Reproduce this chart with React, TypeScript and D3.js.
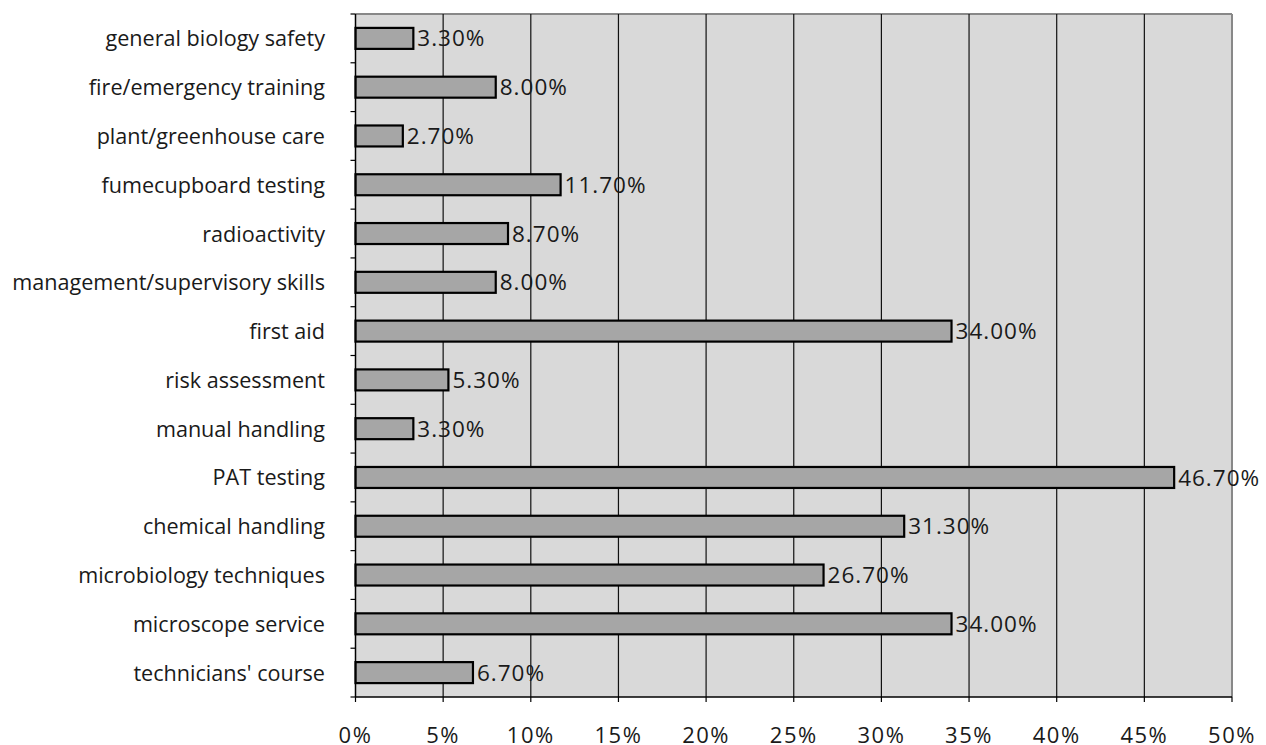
import React from "react";
import * as d3 from "d3";

const categories = [
  "general biology safety",
  "fire/emergency training",
  "plant/greenhouse care",
  "fumecupboard testing",
  "radioactivity",
  "management/supervisory skills",
  "first aid",
  "risk assessment",
  "manual handling",
  "PAT testing",
  "chemical handling",
  "microbiology techniques",
  "microscope service",
  "technicians' course",
];

const percentages = [3.3, 8.0, 2.7, 11.7, 8.7, 8.0, 34.0, 5.3, 3.3, 46.7, 31.3, 26.7, 34.0, 6.7];

const xTicks = [0, 5, 10, 15, 20, 25, 30, 35, 40, 45, 50];

const W = 1266;
const H = 745;
const M = { left: 355.5, right: 1232, top: 14, bottom: 697 };
const FONT = "'Open Sans', 'Noto Sans', sans-serif";
const TEXT = "#1a1a1a";

export default function App() {
  const x = d3.scaleLinear().domain([0, 50]).range([M.left, M.right]);
  const y = d3
    .scaleBand<string>()
    .domain(categories)
    .range([M.top, M.bottom])
    .paddingInner(0)
    .paddingOuter(0);
  const bw = y.bandwidth();
  const barH = bw * 0.43;
  const boundaries = d3.range(categories.length + 1).map((i) => M.top + i * bw);

  return (
    <svg
      width={W}
      height={H}
      style={{ position: "absolute", left: 0, top: 0, background: "#fff" }}
      fontFamily={FONT}
    >
      {/* plot background */}
      <rect x={M.left} y={M.top} width={M.right - M.left} height={M.bottom - M.top} fill="#d9d9d9" />
      {/* top and right frame */}
      <line x1={M.left} x2={M.right} y1={M.top} y2={M.top} stroke="#888" strokeWidth={2} />
      <line x1={M.right} x2={M.right} y1={M.top} y2={M.bottom} stroke="#888" strokeWidth={2} />
      {/* vertical gridlines */}
      {xTicks.slice(1, -1).map((t) => (
        <line key={"g" + t} x1={x(t)} x2={x(t)} y1={M.top} y2={M.bottom} stroke="#111" strokeWidth={1.2} />
      ))}
      {/* bars */}
      {categories.map((c, i) => {
        const yc = (y(c) as number) + bw / 2;
        return (
          <g key={c}>
            <rect
              x={x(0)}
              y={yc - barH / 2}
              width={x(percentages[i]) - x(0)}
              height={barH}
              fill="#a6a6a6"
              stroke="#000"
              strokeWidth={2.2}
            />
            <text
              x={x(percentages[i]) + 4}
              y={yc}
              dy="0.36em"
              fontSize={22.5}
              letterSpacing={1}
              fill={TEXT}
            >
              {percentages[i].toFixed(2) + "%"}
            </text>
            <text x={325} y={yc} dy="0.37em" fontSize={21.6} fill={TEXT} textAnchor="end">
              {c}
            </text>
          </g>
        );
      })}
      {/* y axis */}
      <line x1={M.left} x2={M.left} y1={M.top} y2={M.bottom} stroke="#000" strokeWidth={1.5} />
      {boundaries.map((b, i) => (
        <line key={"yt" + i} x1={M.left - 5} x2={M.left} y1={b} y2={b} stroke="#000" strokeWidth={1.2} />
      ))}
      {/* x axis */}
      <line x1={M.left} x2={M.right} y1={M.bottom} y2={M.bottom} stroke="#000" strokeWidth={1.5} />
      {xTicks.map((t) => (
        <g key={"xt" + t}>
          <line x1={x(t)} x2={x(t)} y1={M.bottom} y2={M.bottom + 5} stroke="#000" strokeWidth={1.2} />
          <text x={x(t)} y={743} textAnchor="middle" fontSize={22} letterSpacing={1.5} fill={TEXT}>
            {t + "%"}
          </text>
        </g>
      ))}
    </svg>
  );
}
